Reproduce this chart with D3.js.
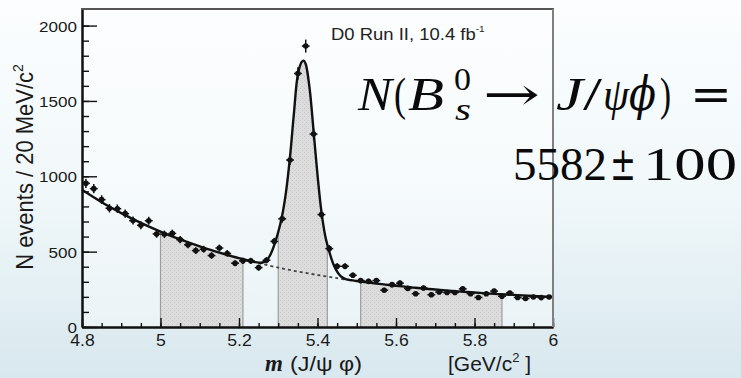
<!DOCTYPE html>
<html>
<head>
<meta charset="utf-8">
<script src="https://cdn.jsdelivr.net/npm/d3@7"></script>
<style>
  html, body { margin: 0; padding: 0; overflow: hidden; background: #f3f9fb; }
  svg { display: block; }
</style>
</head>
<body>
<svg id="chart" width="741" height="378"></svg>
<script>
// Bin centres of the J/psi phi invariant-mass histogram (20 MeV bins)
const massCenters = [
  4.81, 4.83, 4.85, 4.87, 4.89, 4.91, 4.93, 4.95, 4.97, 4.99,
  5.01, 5.03, 5.05, 5.07, 5.09, 5.11, 5.13, 5.15, 5.17, 5.19,
  5.21, 5.23, 5.25, 5.27, 5.29, 5.31, 5.33, 5.35, 5.37, 5.39,
  5.41, 5.43, 5.45, 5.47, 5.49, 5.51, 5.53, 5.55, 5.57, 5.59,
  5.61, 5.63, 5.65, 5.67, 5.69, 5.71, 5.73, 5.75, 5.77, 5.79,
  5.81, 5.83, 5.85, 5.87, 5.89, 5.91, 5.93, 5.95, 5.97, 5.99
];
// Events per bin
const eventCounts = [
  953, 918, 845, 788, 785, 752, 706, 675, 705, 617,
  615, 621, 580, 546, 507, 516, 474, 524, 488, 423,
  439, 439, 394, 443, 568, 718, 1108, 1682, 1864, 1280,
  746, 520, 403, 403, 343, 308, 303, 308, 244, 281,
  291, 256, 221, 259, 214, 232, 229, 229, 253, 221,
  196, 221, 238, 204, 226, 196, 189, 199, 195, 199
];

// Total fit (signal + background)
const fitMass = [
  4.80, 4.85, 4.90, 4.95, 5.00, 5.05, 5.10, 5.15, 5.20, 5.22,
  5.24, 5.25, 5.26, 5.27, 5.28, 5.29, 5.30, 5.31, 5.32, 5.33,
  5.34, 5.35, 5.36, 5.365, 5.37, 5.38, 5.39, 5.40, 5.41, 5.42,
  5.43, 5.44, 5.45, 5.46, 5.47, 5.48, 5.49, 5.50, 5.55, 5.60,
  5.65, 5.70, 5.75, 5.80, 5.85, 5.90, 5.95, 6.00
];
const fitEvents = [
  910, 828, 756, 691, 633, 581, 535, 493, 457, 443,
  431, 427, 428, 440, 480, 545, 630, 740, 900, 1130,
  1420, 1675, 1760, 1767, 1745, 1580, 1300, 1010, 765, 600,
  500, 420, 368, 335, 320, 313, 309, 305, 288, 274,
  260, 249, 238, 229, 220, 213, 206, 200
];

// Background component under the peak
const bkgMass   = [5.25, 5.30, 5.35, 5.40, 5.45, 5.47];
const bkgEvents = [424, 394, 368, 345, 324, 316];

// Side-band and signal windows
const windowLow  = [5.00, 5.30, 5.51];
const windowHigh = [5.21, 5.425, 5.87];

const yMajorTicks = [0, 500, 1000, 1500, 2000];
const xMajorTicks = [4.8, 5.0, 5.2, 5.4, 5.6, 5.8, 6.0];
const xTickLabels = ["4.8", "5", "5.2", "5.4", "5.6", "5.8", "6"];

const svg = d3.select("#chart");
const W = 741, H = 378;
const padL = 82, padR = 553, padT = 9, padB = 327;

const x = d3.scaleLinear().domain([4.8, 6.0]).range([padL, padR]);
const y = d3.scaleLinear().domain([0, 2110]).range([padB, padT]);

const defs = svg.append("defs");
const grad = defs.append("linearGradient")
  .attr("id", "slideBg").attr("x1", 0).attr("y1", 0).attr("x2", 0).attr("y2", 1);
grad.append("stop").attr("offset", "0").attr("stop-color", "#fbfdfe");
grad.append("stop").attr("offset", "0.5").attr("stop-color", "#f1f8fa");
grad.append("stop").attr("offset", "1").attr("stop-color", "#d8e8ee");

const pat = defs.append("pattern")
  .attr("id", "shade").attr("width", 4).attr("height", 4)
  .attr("patternUnits", "userSpaceOnUse");
pat.append("rect").attr("width", 4).attr("height", 4).attr("fill", "#dcdcdc");
pat.append("rect").attr("x", 0).attr("y", 0).attr("width", 1).attr("height", 1).attr("fill", "#c9c9c9");
pat.append("rect").attr("x", 2).attr("y", 2).attr("width", 1).attr("height", 1).attr("fill", "#c9c9c9");

const fitPoints = fitMass.map((m, i) => [m, fitEvents[i]]);
const curve = d3.curveCatmullRom.alpha(0.5);
const fitLine = d3.line().x(d => x(d[0])).y(d => y(d[1])).curve(curve);
const fitArea = d3.area().x(d => x(d[0])).y0(y(0)).y1(d => y(d[1])).curve(curve);

defs.append("clipPath").attr("id", "underFit")
  .append("path").attr("d", fitArea(fitPoints));

// slide background
svg.append("rect").attr("width", W).attr("height", H).attr("fill", "url(#slideBg)");
// plot pad
svg.append("rect").attr("x", padL).attr("y", padT)
  .attr("width", padR - padL).attr("height", padB - padT)
  .attr("fill", "#ffffff").attr("fill-opacity", 0.35);

// shaded windows below the fit
const win = svg.append("g").attr("clip-path", "url(#underFit)");
windowLow.forEach((lo, i) => {
  const hi = windowHigh[i];
  win.append("rect")
    .attr("x", x(lo)).attr("y", padT)
    .attr("width", x(hi) - x(lo)).attr("height", padB - padT)
    .attr("fill", "url(#shade)");
  [lo, hi].forEach(v => {
    win.append("line")
      .attr("x1", x(v)).attr("x2", x(v)).attr("y1", padT).attr("y2", padB)
      .attr("stroke", "#9c9c9c").attr("stroke-width", 1.2);
  });
});

// background component (dashed)
svg.append("path")
  .datum(bkgMass.map((m, i) => [m, bkgEvents[i]]))
  .attr("d", d3.line().x(d => x(d[0])).y(d => y(d[1])).curve(curve))
  .attr("fill", "none").attr("stroke", "#444").attr("stroke-width", 1.8)
  .attr("stroke-dasharray", "3,3");

// total fit
svg.append("path")
  .datum(fitPoints)
  .attr("d", fitLine)
  .attr("fill", "none").attr("stroke", "#111").attr("stroke-width", 2.4);

// data points with error bars
const pts = svg.append("g");
massCenters.forEach((m, i) => {
  const n = eventCounts[i];
  const e = Math.sqrt(n);
  const g = pts.append("g");
  g.append("line").attr("x1", x(m)).attr("x2", x(m))
    .attr("y1", y(n - e)).attr("y2", y(n + e))
    .attr("stroke", "#111").attr("stroke-width", 1.5);
  g.append("line").attr("x1", x(m - 0.01)).attr("x2", x(m + 0.01))
    .attr("y1", y(n)).attr("y2", y(n))
    .attr("stroke", "#111").attr("stroke-width", 1.5);
  g.append("circle").attr("cx", x(m)).attr("cy", y(n)).attr("r", 2.8).attr("fill", "#111");
});

// axes
const sans = "'Liberation Sans', Arial, Helvetica, sans-serif";
const xMinor = svg.append("g").attr("transform", `translate(0,${padB})`)
  .call(d3.axisBottom(x).ticks(24).tickSize(-4).tickSizeOuter(0).tickFormat(""));
const yMinor = svg.append("g").attr("transform", `translate(${padL},0)`)
  .call(d3.axisLeft(y).tickValues(d3.range(0, 2001, 100)).tickSize(-7).tickSizeOuter(0).tickFormat(""));

const xAxis = svg.append("g").attr("transform", `translate(0,${padB})`)
  .call(d3.axisBottom(x).tickValues(xMajorTicks).tickSize(-9).tickSizeOuter(0)
    .tickPadding(8).tickFormat((d, i) => xTickLabels[i]));
const yAxis = svg.append("g").attr("transform", `translate(${padL},0)`)
  .call(d3.axisLeft(y).tickValues(yMajorTicks).tickSize(-15).tickSizeOuter(0)
    .tickPadding(5).tickFormat(d3.format("d")));

[xMinor, yMinor, xAxis, yAxis].forEach(a => {
  a.selectAll(".tick line").attr("stroke", "#111").attr("stroke-width", 1.4);
  a.select(".domain").attr("stroke", "#111").attr("stroke-width", 2);
});
xAxis.selectAll(".tick text")
  .attr("font-family", sans).attr("font-size", 16).attr("fill", "#1a1a1a")
  .attr("transform", "scale(1.1,1)");
yAxis.selectAll(".tick text")
  .attr("font-family", sans).attr("font-size", 15.5).attr("fill", "#1a1a1a")
  .attr("x", -5 / 1.1).attr("dy", "0.36em")
  .attr("transform", "scale(1.1,1)");

// top and right frame
svg.append("line").attr("x1", padL - 1).attr("x2", padR + 1).attr("y1", padT).attr("y2", padT)
  .attr("stroke", "#555").attr("stroke-width", 2);
svg.append("line").attr("x1", padR).attr("x2", padR).attr("y1", padT).attr("y2", padB)
  .attr("stroke", "#808080").attr("stroke-width", 2);

// axis titles
const yTitle = svg.append("text")
  .attr("transform", "translate(33,167) scale(1.08,1) rotate(-90)")
  .attr("text-anchor", "middle")
  .attr("font-family", sans).attr("font-size", 22).attr("fill", "#1a1a1a");
yTitle.append("tspan").text("N events / 20 MeV/c");
yTitle.append("tspan").attr("font-size", 14).attr("dy", -9).text("2");

const xTitle = svg.append("g").attr("fill", "#1a1a1a");
xTitle.append("text").attr("x", 265).attr("y", 371)
  .attr("font-family", "'Liberation Serif', 'Times New Roman', serif")
  .attr("font-style", "italic").attr("font-weight", "bold").attr("font-size", 23)
  .text("m");
xTitle.append("text").attr("x", 290).attr("y", 371)
  .attr("font-family", sans).attr("font-size", 21)
  .attr("textLength", 72).attr("lengthAdjust", "spacingAndGlyphs")
  .text("(J/ψ  φ)");
const unit = xTitle.append("text").attr("x", 448).attr("y", 371)
  .attr("font-family", sans).attr("font-size", 21);
unit.append("tspan").text("[GeV/c");
unit.append("tspan").attr("font-size", 13).attr("dy", -9).text("2");
unit.append("tspan").attr("dy", 9).text(" ]");

// experiment label
const lab = svg.append("text")
  .attr("transform", "translate(331,40) scale(1.12,1)")
  .attr("font-family", sans).attr("font-size", 16.5).attr("fill", "#222");
lab.append("tspan").text("D0 Run II, 10.4 fb");
lab.append("tspan").attr("font-size", 9).attr("dy", -8).text("-1");

// signal yield
const serif = "'Liberation Serif', 'Times New Roman', serif";
const formula = svg.append("g").attr("fill", "#0a0a0a");
function tok(str, x0, base, size, w, italic, family) {
  formula.append("text")
    .attr("x", x0).attr("y", base)
    .attr("font-family", family || serif)
    .attr("font-size", size)
    .attr("font-style", italic ? "italic" : "normal")
    .attr("textLength", w).attr("lengthAdjust", "spacingAndGlyphs")
    .text(str);
}
tok("N", 358, 110, 46, 34, true);
tok("(", 394, 110, 46, 12, false);
tok("B", 408, 110, 46, 36, true);
tok("0", 454, 90, 31, 17, false);
tok("s", 455, 120, 31, 16, true);
tok("→", 483, 110, 46, 57, false, "'DejaVu Serif', serif");
tok("J", 556, 110, 46, 27, true);
tok("/", 583, 110, 46, 19, false);
tok("ψ", 603, 110, 46, 26, true);
tok("ϕ", 629, 110, 46, 27, true, "'DejaVu Serif', serif");
tok(")", 660, 110, 46, 11, false);
tok("=", 690, 110, 46, 42, false, "'DejaVu Serif', serif");
tok("5582", 513, 180, 46, 94, false);
tok("±", 610, 180, 46, 26, false, "'DejaVu Serif', serif");
tok("100", 643, 180, 46, 94, false);
</script>
</body>
</html>
